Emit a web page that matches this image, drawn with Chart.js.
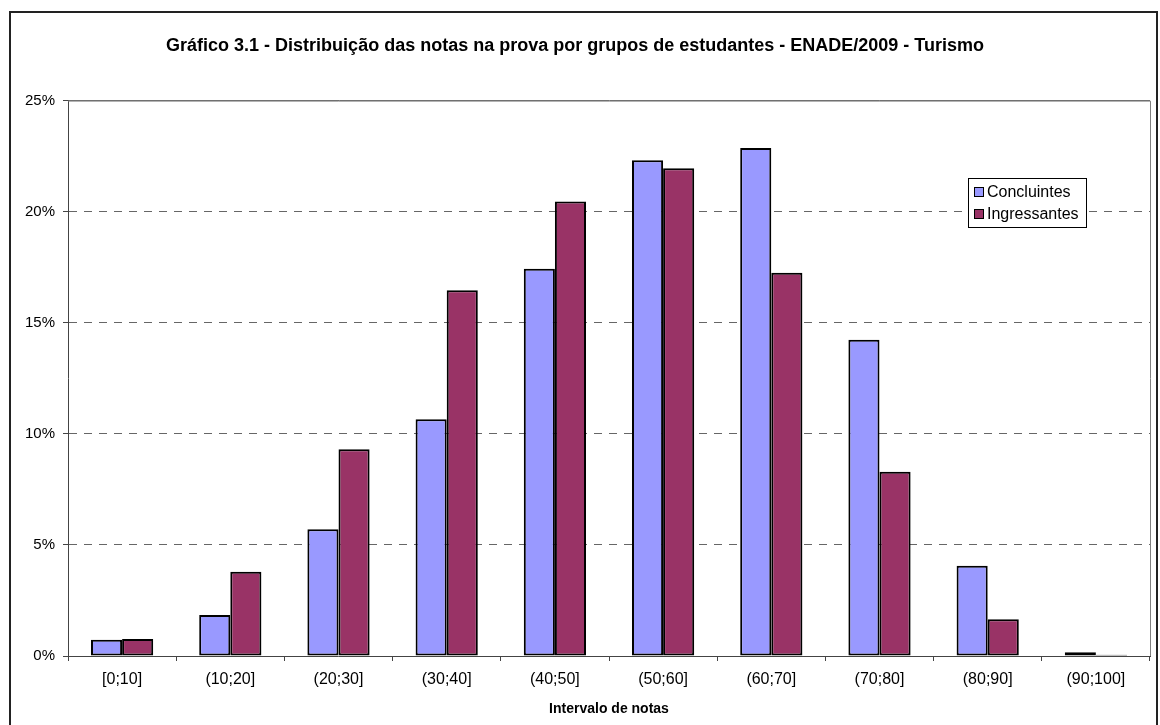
<!DOCTYPE html>
<html>
<head>
<meta charset="utf-8">
<script src="https://cdn.jsdelivr.net/npm/chart.js@4"></script>
<style>
body{margin:0;background:#fff;}
</style>
</head>
<body>
<canvas id="myChart" width="1160" height="725"></canvas>
<script>
var xValues = ["[0;10]", "(10;20]", "(20;30]", "(30;40]", "(40;50]", "(50;60]", "(60;70]", "(70;80]", "(80;90]", "(90;100]"];
var concluintes = [0.73, 1.84, 5.70, 10.66, 17.43, 22.32, 22.87, 14.24, 4.06, 0.17];
var ingressantes = [0.76, 3.79, 9.31, 16.46, 20.46, 21.96, 17.25, 8.29, 1.65, 0.06];
var yTicks = [0, 5, 10, 15, 20, 25];
var seriesNames = ["Concluintes", "Ingressantes"];
var barColors = ["#9999FF", "#993366"];

Chart.defaults.font.family = "'Liberation Sans', Arial, sans-serif";
Chart.defaults.color = "#000";

// white page + outer frame, plot border and the boxed legend
var framePlugin = {
    id: "frame",
    beforeDraw: function(chart){
        var ctx = chart.ctx;
        ctx.save();
        ctx.fillStyle = "#fff";
        ctx.fillRect(0, 0, chart.width, chart.height);
        ctx.restore();
    },
    afterDraw: function(chart){
        var ctx = chart.ctx;
        var a = chart.chartArea;
        ctx.save();
        ctx.strokeStyle = "#808080";
        ctx.lineWidth = 1;
        ctx.beginPath();
        ctx.moveTo(a.left, a.top + 0.5);
        ctx.lineTo(a.right + 0.5, a.top + 0.5);
        ctx.lineTo(a.right + 0.5, a.bottom);
        ctx.stroke();

        ctx.strokeStyle = "#222";
        ctx.lineWidth = 2;
        ctx.strokeRect(10, 12, 1147, 730);

        // legend
        var lx = 968, ly = 178;
        ctx.fillStyle = "#fff";
        ctx.fillRect(lx, ly, 118, 49);
        ctx.strokeStyle = "#000";
        ctx.lineWidth = 1;
        ctx.strokeRect(lx + 0.5, ly + 0.5, 118, 49);
        ctx.font = "16px 'Liberation Sans', Arial, sans-serif";
        ctx.textBaseline = "middle";
        chart.data.datasets.forEach(function(ds, i){
            var cy = ly + 14 + i * 22;
            ctx.fillStyle = ds.backgroundColor;
            ctx.fillRect(lx + 6, cy - 5, 9, 9);
            ctx.strokeRect(lx + 6.5, cy - 4.5, 9, 9);
            ctx.fillStyle = "#000";
            ctx.fillText(ds.label, lx + 19, cy + 1);
        });
        ctx.restore();
    }
};

new Chart("myChart", {
    type: "bar",
    data: {
        labels: xValues,
        datasets: [{
            label: seriesNames[0],
            data: concluintes,
            backgroundColor: barColors[0],
            borderColor: "#000",
            borderWidth: 2,
            borderSkipped: false
        }, {
            label: seriesNames[1],
            data: ingressantes,
            backgroundColor: barColors[1],
            borderColor: "#000",
            borderWidth: 2,
            borderSkipped: false
        }]
    },
    options: {
        responsive: false,
        animation: false,
        categoryPercentage: 0.575,
        barPercentage: 1.0,
        layout: {padding: {left: 0, right: 10, top: 0, bottom: 0}},
        scales: {
            x: {
                grid: {drawOnChartArea: false, tickLength: 5, color: "#444", offset: true},
                border: {color: "#444"},
                ticks: {font: {size: 16}, padding: 9, maxRotation: 0},
                title: {
                    display: true,
                    text: "Intervalo de notas",
                    font: {size: 14, weight: "bold"},
                    padding: {top: 2, bottom: 7}
                },
                afterFit: function(s){ s.height = 69; }
            },
            y: {
                min: 0,
                max: 25,
                afterBuildTicks: function(axis){
                    axis.ticks = yTicks.map(function(v){ return {value: v}; });
                },
                grid: {color: "#666", tickLength: 5, tickColor: "#444"},
                border: {
                    color: "#444",
                    dash: function(c){ return (c.tick && c.tick.value === 25) ? [] : [8, 7]; }
                },
                ticks: {
                    font: {size: 15},
                    padding: 8,
                    callback: function(v){ return v + "%"; }
                },
                afterFit: function(s){ s.width = 68; }
            }
        },
        plugins: {
            legend: {display: false},
            tooltip: {enabled: false},
            title: {
                display: true,
                text: "Gráfico 3.1 - Distribuição das notas na prova por grupos de estudantes - ENADE/2009 - Turismo",
                font: {size: 18, weight: "bold"},
                padding: {top: 35, bottom: 44}
            }
        }
    },
    plugins: [framePlugin]
});
</script>
</body>
</html>
